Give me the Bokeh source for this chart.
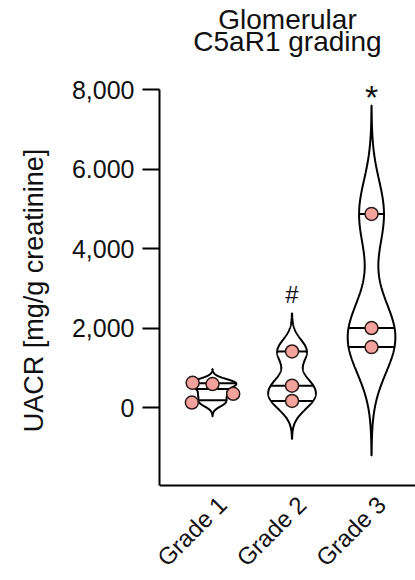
import numpy as np
from bokeh.plotting import figure
from bokeh.models import FixedTicker
from bokeh.core.properties import value
from bokeh.embed import file_html
from bokeh.resources import INLINE

# ---- data ----
categories = ["Grade 1", "Grade 2", "Grade 3"]
grade1 = [620, 590, 345, 125]
grade2 = [1410, 550, 165]
grade3 = [4870, 2000, 1520]
groups = [grade1, grade2, grade3]
jitter = [[-0.25, 0.0, 0.26, -0.26], [0.0, 0.0, 0.0], [0.0, 0.0, 0.0]]
marks = ["", "#", "*"]
y_ticks = [0, 2000, 4000, 6000, 8000]
y_tick_labels = ["0", "2,000", "4,000", "6.000", "8,000"]
title_lines = ["Glomerular", "C5aR1 grading"]
y_label = "UACR [mg/g creatinine]"

# ---- layout / style ----
FONT = "Liberation Sans"
INK = "#111111"
POINT_FILL = "#F3A39B"
W, H = 415, 580
LEFT = 159                 # x of the y axis line
AX_TOP, AX_BOTTOM = 89, 485   # page y of 8,000 and of the x axis line
Y_AX_MIN, Y_AX_MAX = -1962, 8000
x0, x1 = 0.333, 3.553
HALF_W = 0.30
BW_FACTOR = 0.47
CUT = 3.2

px_per_y = (AX_BOTTOM - AX_TOP) / (Y_AX_MAX - Y_AX_MIN)
px_per_x = (W - LEFT) / (x1 - x0)
y_top = Y_AX_MAX + AX_TOP / px_per_y
y_bot = Y_AX_MIN - (H - AX_BOTTOM) / px_per_y


def vy(page_y):
    """page pixel row -> data value"""
    return y_top - page_y / px_per_y


p = figure(width=W, height=H, x_range=(x0, x1), y_range=(y_bot, y_top),
           output_backend="svg", toolbar_location=None,
           x_axis_location=None,
           min_border_left=LEFT, min_border_right=0,
           min_border_bottom=0, min_border_top=0)
p.outline_line_color = None
p.grid.visible = False

xpos = [i + 1 for i in range(len(categories))]

# x axis line
p.segment(x0=[x0], y0=[Y_AX_MIN], x1=[x1], y1=[Y_AX_MIN],
          line_color="black", line_width=2)

for xc, d, jit, mk in zip(xpos, groups, jitter, marks):
    d = np.asarray(d, dtype=float)
    h = BW_FACTOR * np.std(d, ddof=1)
    ys = np.linspace(d.min() - CUT * h, d.max() + CUT * h, 500)
    dens = np.exp(-0.5 * ((ys[:, None] - d[None, :]) / h) ** 2).sum(axis=1)
    half = dens / dens.max() * HALF_W
    px = np.concatenate([xc + half, (xc - half)[::-1]])
    py = np.concatenate([ys, ys[::-1]])
    p.patch(px, py, fill_color="white", line_color="black", line_width=2)
    q = np.percentile(d, [25, 50, 75], method="weibull")
    hw = np.interp(q, ys, half)
    p.segment(x0=list(xc - hw), y0=list(q), x1=list(xc + hw), y1=list(q),
              line_color="black", line_width=2)
    p.scatter(x=list(xc + np.asarray(jit)), y=list(d), size=13,
              fill_color=POINT_FILL, line_color="#2a1a1a", line_width=1.5)
    top = ys.max()
    if mk == "#":
        p.text(x=[xc], y=[top + 19 / px_per_y], text=[mk],
               text_align="center", text_baseline="middle",
               text_font=value(FONT), text_font_size="24px", text_color=INK)
    elif mk == "*":
        p.text(x=[xc], y=[top + 9 / px_per_y], text=[mk],
               text_align="center", text_baseline="middle",
               text_font=value(FONT), text_font_size="34px", text_color=INK)

# title, two centred lines
p.text(x=[(x0 + x1) / 2] * 2, y=[vy(18.5), vy(40.5)], text=title_lines,
       text_align="center", text_baseline="middle",
       text_font=value(FONT), text_font_size="28px", text_color=INK)

# category labels, rotated 45 degrees, ending just right of each category
# (kept right of the y axis line so that the frame does not clip them)
p.text(x=[xc + 10 / px_per_x for xc in xpos],
       y=[Y_AX_MIN - 15 / px_per_y] * len(xpos), text=categories,
       angle=np.pi / 4, text_align="right", text_baseline="middle",
       text_font=value(FONT), text_font_size="24px", text_color=INK)

# y axis
ya = p.yaxis[0]
ya.ticker = FixedTicker(ticks=y_ticks)
ya.major_label_overrides = {t: l for t, l in zip(y_ticks, y_tick_labels)}
ya.bounds = (Y_AX_MIN, Y_AX_MAX)
ya.axis_line_width = 2
ya.axis_line_color = "black"
ya.major_tick_line_width = 2
ya.major_tick_line_color = "black"
ya.major_tick_out = 17
ya.major_tick_in = 0
ya.minor_tick_line_color = None
ya.major_label_text_font = FONT
ya.major_label_text_font_size = "25px"
ya.major_label_text_color = INK
ya.major_label_standoff = 8
ya.axis_label = y_label
ya.axis_label_text_font = FONT
ya.axis_label_text_font_size = "27px"
ya.axis_label_text_font_style = "normal"
ya.axis_label_text_color = INK
ya.axis_label_standoff = 20

open("out.html", "w").write(file_html(p, INLINE))
